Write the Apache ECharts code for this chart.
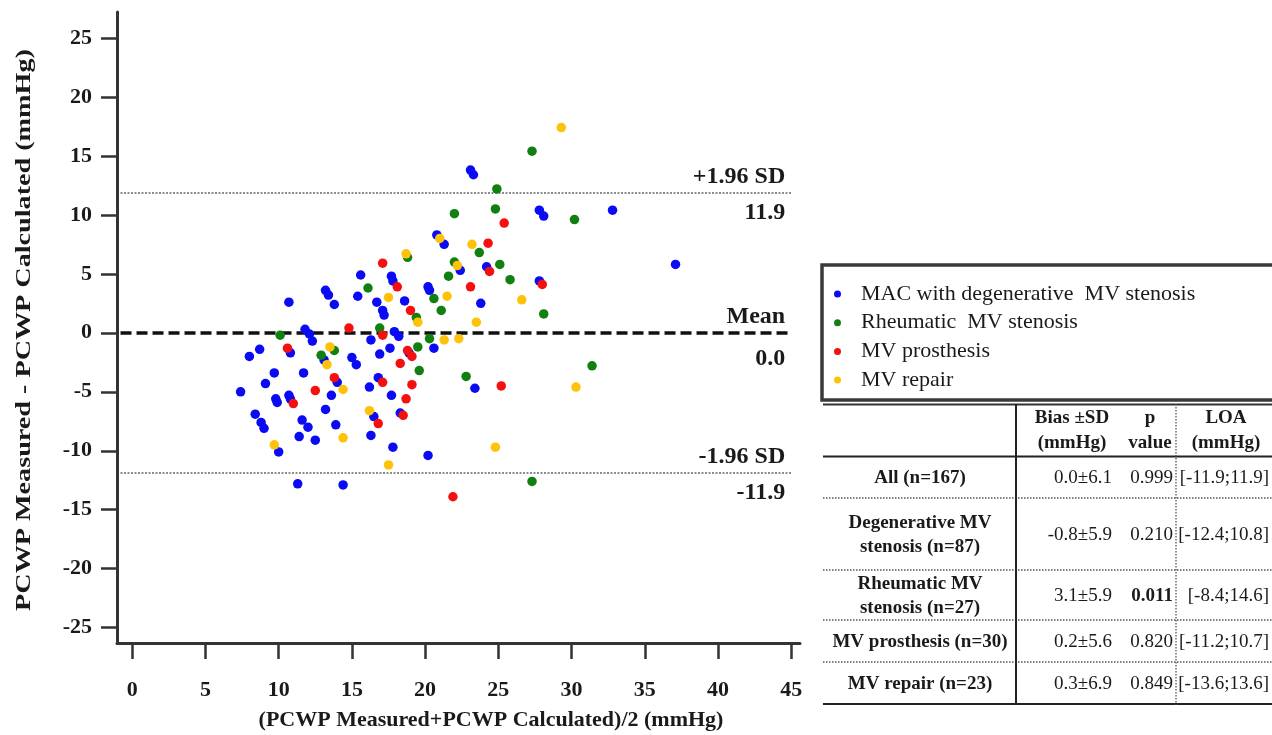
<!DOCTYPE html>
<html>
<head>
<meta charset="utf-8">
<script src="https://cdn.jsdelivr.net/npm/echarts@6/dist/echarts.min.js"></script>
<style>
html,body{margin:0;padding:0;background:#fff;}
#chart{width:1272px;height:735px;}
</style>
</head>
<body>
<div id="chart"></div>
<script>
// ---------------- DATA ----------------
const seriesNames = ['MAC with degenerative  MV stenosis', 'Rheumatic  MV stenosis', 'MV prosthesis', 'MV repair'];
const seriesColors = ['#0a0af5', '#118011', '#f51010', '#ffc20a'];

const degenerative = [[7.4,-5.0],[9.1,-4.3],[9.8,-5.6],[9.9,-5.9],[10.7,-5.3],[10.8,-5.6],[13.6,-5.3],[14.0,-4.2],[13.2,-6.5],[8.4,-6.9],[8.8,-7.6],[9.0,-8.1],[11.6,-7.4],[12.0,-8.0],[13.9,-7.8],[11.4,-8.8],[12.5,-9.1],[10.0,-10.1],[16.2,-4.6],[17.7,-5.3],[16.5,-7.1],[18.3,-6.8],[16.3,-8.7],[17.8,-9.7],[11.3,-12.8],[14.4,-12.9],[15.6,4.9],[17.7,4.8],[17.8,4.4],[13.2,3.6],[13.4,3.2],[13.8,2.4],[10.7,2.6],[15.4,3.1],[16.7,2.6],[17.1,1.9],[17.2,1.5],[18.6,2.7],[11.8,0.3],[12.1,-0.1],[12.3,-0.7],[17.9,0.1],[18.2,-0.3],[16.3,-0.6],[8.7,-1.4],[8.0,-2.0],[10.8,-1.7],[13.1,-2.3],[15.0,-2.1],[15.3,-2.7],[16.9,-1.8],[17.6,-1.3],[18.9,-1.7],[9.7,-3.4],[11.7,-3.4],[16.8,-3.8],[20.6,-1.3],[20.8,8.3],[21.3,7.5],[22.4,5.3],[24.2,5.6],[27.8,4.4],[20.2,3.9],[20.3,3.6],[23.8,2.5],[23.4,-4.7],[20.2,-10.4],[23.1,13.8],[23.3,13.4],[27.8,10.4],[28.1,9.9],[32.8,10.4],[37.1,5.8]];
const rheumatic = [[16.1,3.8],[19.4,1.3],[16.9,0.4],[10.1,-0.2],[13.8,-1.5],[12.9,-1.9],[19.6,-3.2],[30.2,9.6],[23.7,6.8],[18.8,6.4],[22.0,6.0],[21.6,4.8],[25.1,5.8],[25.8,4.5],[20.6,2.9],[21.1,1.9],[28.1,1.6],[20.3,-0.5],[19.5,-1.2],[22.8,-3.7],[27.3,-12.6],[27.3,15.4],[24.9,12.2],[22.0,10.1],[24.8,10.5],[31.4,-2.8]];
const prosthesis = [[17.1,5.9],[18.1,3.9],[19.0,1.9],[14.8,0.4],[17.1,-0.2],[10.6,-1.3],[18.8,-1.5],[19.1,-2.0],[18.3,-2.6],[19.1,-4.4],[13.8,-3.8],[17.1,-4.2],[12.5,-4.9],[11.0,-6.0],[18.7,-5.6],[16.8,-7.7],[18.5,-7.0],[25.4,9.3],[24.3,7.6],[24.4,5.2],[28.0,4.1],[23.1,3.9],[25.2,-4.5],[21.9,-13.9]];
const repair = [[17.5,3.0],[19.5,0.9],[13.5,-1.2],[13.3,-2.7],[14.4,-4.8],[16.2,-6.6],[14.4,-8.9],[9.7,-9.5],[17.5,-11.2],[21.0,8.0],[23.2,7.5],[18.7,6.7],[22.2,5.7],[21.5,3.1],[26.6,2.8],[23.5,0.9],[21.3,-0.6],[22.3,-0.5],[30.3,-4.6],[24.8,-9.7],[29.3,17.4]];

const xTicks = [0,5,10,15,20,25,30,35,40,45];
const yTicks = [-25,-20,-15,-10,-5,0,5,10,15,20,25];
const limitValues = [11.9, 0.0, -11.9];
const limitNames = ['+1.96 SD', 'Mean', '-1.96 SD'];
const limitValueText = ['11.9', '0.0', '-11.9'];
const limitXRange = [-0.8, 45];

const tableHeader = [['Bias \u00b1SD', '(mmHg)'], ['p', 'value'], ['LOA', '(mmHg)']];
const tableRows = ['All (n=167)', 'Degenerative MV\nstenosis (n=87)', 'Rheumatic MV\nstenosis (n=27)', 'MV prosthesis (n=30)', 'MV repair (n=23)'];
const biasSD = ['0.0\u00b16.1', '-0.8\u00b15.9', '3.1\u00b15.9', '0.2\u00b15.6', '0.3\u00b16.9'];
const pValues = ['0.999', '0.210', '0.011', '0.820', '0.849'];
const pBold = [false, false, true, false, false];
const loa = ['[-11.9;11.9]', '[-12.4;10.8]', '[-8.4;14.6]', '[-11.2;10.7]', '[-13.6;13.6]'];

const xTitle = '(PCWP Measured+PCWP Calculated)/2 (mmHg)';
const yTitle = 'PCWP Measured - PCWP Calculated (mmHg)';

// ---------------- CHART ----------------
const FONT = '"Liberation Serif", "Times New Roman", serif';
const chart = echarts.init(document.getElementById('chart'), null, {renderer: 'canvas'});

const groups = [degenerative, rheumatic, prosthesis, repair];

const markData = [];
limitValues.forEach((v, i) => {
  const isMean = i === 1;
  const ls = isMean ? {color: '#111', width: 3.5, type: [11, 5]} : {color: '#666', width: 1.5, type: [2, 1.5]};
  markData.push([
    {coord: [limitXRange[0], v], lineStyle: ls, label: {show: true, position: 'insideEndTop', formatter: limitNames[i], distance: [6, 4]}},
    {coord: [limitXRange[1], v]}
  ]);
  markData.push([
    {coord: [limitXRange[0], v], lineStyle: {color: 'rgba(0,0,0,0)', width: 0}, label: {show: true, position: 'insideEndBottom', formatter: limitValueText[i], distance: [6, isMean ? 14 : 8]}},
    {coord: [limitXRange[1], v]}
  ]);
});

const series = groups.map((d, i) => ({
  name: seriesNames[i],
  type: 'scatter',
  data: d,
  symbol: 'circle',
  symbolSize: 9.5,
  itemStyle: {color: seriesColors[i], opacity: 1},
  z: 3
}));
series[0].markLine = {
  silent: true,
  symbol: 'none',
  z: 2,
  label: {fontFamily: FONT, fontWeight: 'bold', fontSize: 24, color: '#1a1a1a'},
  data: markData
};

// table graphics
const G = [];
const tL = 823, tR = 1280, colSplit = 1016, colDot = 1176;
const rowEdges = [456.5, 498, 570, 620, 662, 704];
G.push({type: 'rect', shape: {x: 822, y: 265, width: 470, height: 135}, style: {fill: 'none', stroke: '#3a3a3a', lineWidth: 3.5}});
G.push({type: 'line', shape: {x1: tL, y1: 404.5, x2: tR, y2: 404.5}, style: {stroke: '#333', lineWidth: 2}});
G.push({type: 'line', shape: {x1: tL, y1: rowEdges[0], x2: tR, y2: rowEdges[0]}, style: {stroke: '#222', lineWidth: 2}});
for (let i = 1; i < rowEdges.length - 1; i++) {
  G.push({type: 'line', shape: {x1: tL, y1: rowEdges[i], x2: tR, y2: rowEdges[i]}, style: {stroke: '#555', lineWidth: 1.3, lineDash: [1.5, 1.5]}});
}
G.push({type: 'line', shape: {x1: tL, y1: rowEdges[5], x2: tR, y2: rowEdges[5]}, style: {stroke: '#222', lineWidth: 2}});
G.push({type: 'line', shape: {x1: colSplit, y1: 404, x2: colSplit, y2: 705}, style: {stroke: '#222', lineWidth: 2}});
G.push({type: 'line', shape: {x1: colDot, y1: 404, x2: colDot, y2: 705}, style: {stroke: '#555', lineWidth: 1.3, lineDash: [1.5, 1.5]}});

const headX = [1072, 1150, 1226];
tableHeader.forEach((h, i) => {
  G.push({type: 'text', x: headX[i], y: 418, style: {text: h[0], font: 'bold 19px ' + FONT, fill: '#1a1a1a', align: 'center', verticalAlign: 'middle'}});
  G.push({type: 'text', x: headX[i], y: 443, style: {text: h[1], font: 'bold 19px ' + FONT, fill: '#1a1a1a', align: 'center', verticalAlign: 'middle'}});
});
tableRows.forEach((r, i) => {
  const cy = (rowEdges[i] + rowEdges[i + 1]) / 2 + 1;
  G.push({type: 'text', x: 920, y: cy, style: {text: r, font: 'bold 19px ' + FONT, lineHeight: 24, fill: '#1a1a1a', align: 'center', verticalAlign: 'middle'}});
  G.push({type: 'text', x: 1112, y: cy, style: {text: biasSD[i], font: '19px ' + FONT, fill: '#1a1a1a', align: 'right', verticalAlign: 'middle'}});
  G.push({type: 'text', x: 1173, y: cy, style: {text: pValues[i], font: (pBold[i] ? 'bold ' : '') + '19px ' + FONT, fill: '#1a1a1a', align: 'right', verticalAlign: 'middle'}});
  G.push({type: 'text', x: 1269, y: cy, style: {text: loa[i], font: '19px ' + FONT, fill: '#1a1a1a', align: 'right', verticalAlign: 'middle'}});
});
// axis titles
G.push({type: 'text', x: 491, y: 720, style: {text: xTitle, font: 'bold 22px ' + FONT, fill: '#1a1a1a', align: 'center', verticalAlign: 'middle'}});
G.push({type: 'text', x: 24, y: 330, rotation: Math.PI / 2, scaleX: 1.28, style: {text: yTitle, font: 'bold 22px ' + FONT, fill: '#1a1a1a', align: 'center', verticalAlign: 'middle'}});

const option = {
  backgroundColor: '#fff',
  animation: false,
  grid: {left: 117, top: 12, width: 683, height: 631, containLabel: false},
  xAxis: {
    type: 'value', min: -1.04, max: 45.6,
    axisLine: {show: true, onZero: false, lineStyle: {color: '#333', width: 3}},
    axisTick: {show: true, customValues: xTicks, length: 16, lineStyle: {color: '#333', width: 2.5}},
    axisLabel: {customValues: xTicks, margin: 36, fontFamily: FONT, fontWeight: 'bold', fontSize: 22, color: '#1a1a1a'},
    splitLine: {show: false}
  },
  yAxis: {
    type: 'value', min: -26.3, max: 27.2,
    axisLine: {show: true, onZero: false, lineStyle: {color: '#333', width: 3}},
    axisTick: {show: true, customValues: yTicks, length: 16, lineStyle: {color: '#333', width: 2.5}},
    axisLabel: {customValues: yTicks, margin: 25, fontFamily: FONT, fontWeight: 'bold', fontSize: 22, color: '#1a1a1a'},
    splitLine: {show: false}
  },
  legend: {
    orient: 'vertical', left: 834, top: 283, padding: 0,
    itemWidth: 7, itemHeight: 7, itemGap: 6.7, icon: 'circle',
    textStyle: {fontFamily: FONT, fontSize: 22, color: '#1a1a1a', padding: [0, 0, 0, 15], lineHeight: 22},
    data: seriesNames
  },
  graphic: G,
  series: series
};
chart.setOption(option);
</script>
</body>
</html>
